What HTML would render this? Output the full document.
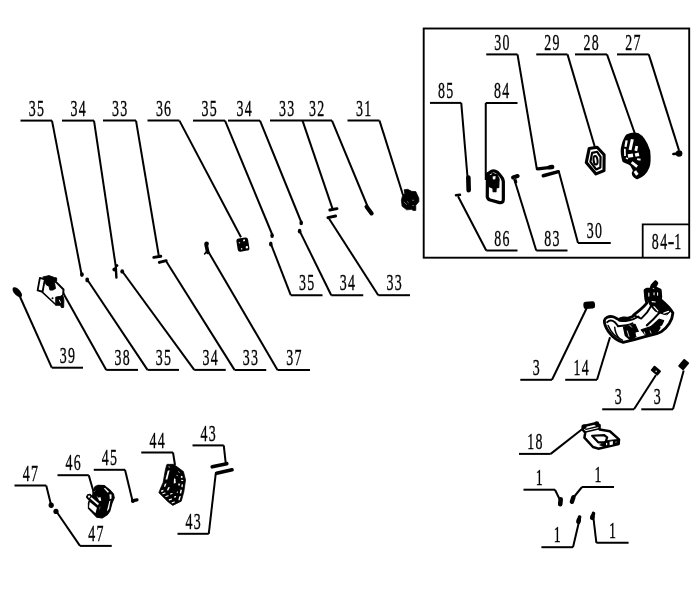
<!DOCTYPE html>
<html><head><meta charset="utf-8"><title>Parts diagram</title>
<style>
html,body{margin:0;padding:0;background:#fff;}
body{width:700px;height:591px;overflow:hidden;font-family:"Liberation Serif",serif;}
svg{display:block;}
text{font-family:"Liberation Serif",serif;font-size:23.2px;fill:#000;stroke:#000;stroke-width:0.35px;letter-spacing:2.0px;}
</style></head><body>
<svg width="700" height="591" viewBox="0 0 700 591">
<rect width="700" height="591" fill="#fff"/>
<g id="lines" stroke="#000" stroke-width="2.0" fill="none" stroke-linecap="butt">
<line x1="20.5" y1="120.6" x2="52" y2="120.6"/>
<line x1="62" y1="120.6" x2="94" y2="120.6"/>
<line x1="103" y1="120.6" x2="136" y2="120.6"/>
<line x1="147.5" y1="120.6" x2="179.4" y2="120.6"/>
<line x1="193" y1="120.6" x2="225" y2="120.6"/>
<line x1="228" y1="120.6" x2="260" y2="120.6"/>
<line x1="347.5" y1="120.6" x2="379.5" y2="120.6"/>
<line x1="486.25" y1="54.4" x2="517.5" y2="54.4"/>
<line x1="536.25" y1="54.4" x2="567.5" y2="54.4"/>
<line x1="575" y1="54.4" x2="607" y2="54.4"/>
<line x1="617" y1="54.4" x2="648.75" y2="54.4"/>
<line x1="430" y1="102.9" x2="461.25" y2="102.9"/>
<line x1="485.75" y1="102.9" x2="517.5" y2="102.9"/>
<line x1="486.25" y1="250.5" x2="517.5" y2="250.5"/>
<line x1="536.25" y1="250.5" x2="567.5" y2="250.5"/>
<line x1="578" y1="243.1" x2="610.75" y2="243.1"/>
<line x1="290.75" y1="295.2" x2="322.5" y2="295.2"/>
<line x1="331.25" y1="295.2" x2="363.25" y2="295.2"/>
<line x1="378.25" y1="295.2" x2="410" y2="295.2"/>
<line x1="51.75" y1="367.7" x2="83" y2="367.7"/>
<line x1="106.25" y1="369.9" x2="138" y2="369.9"/>
<line x1="147.5" y1="369.9" x2="179" y2="369.9"/>
<line x1="194.25" y1="369.9" x2="225.75" y2="369.9"/>
<line x1="234.5" y1="369.9" x2="266.25" y2="369.9"/>
<line x1="277.5" y1="369.9" x2="310" y2="369.9"/>
<line x1="520.3" y1="379.8" x2="552" y2="379.8"/>
<line x1="565.2" y1="379.8" x2="597" y2="379.8"/>
<line x1="602.2" y1="409.3" x2="634" y2="409.3"/>
<line x1="641.3" y1="409.3" x2="673" y2="409.3"/>
<line x1="519" y1="453.9" x2="550.7" y2="453.9"/>
<line x1="523.5" y1="489.7" x2="555" y2="489.7"/>
<line x1="582" y1="487.0" x2="614" y2="487.0"/>
<line x1="541.4" y1="547.2" x2="573" y2="547.2"/>
<line x1="596.4" y1="542.8" x2="628.6" y2="542.8"/>
<line x1="14.5" y1="485.4" x2="46.25" y2="485.4"/>
<line x1="57.5" y1="475.2" x2="88.75" y2="475.2"/>
<line x1="93.75" y1="469.8" x2="125" y2="469.8"/>
<line x1="141.25" y1="452.5" x2="173" y2="452.5"/>
<line x1="192.5" y1="445.4" x2="223.75" y2="445.4"/>
<line x1="177.5" y1="533.8" x2="208.75" y2="533.8"/>
<line x1="80" y1="545.9" x2="111.75" y2="545.9"/>
<line x1="270" y1="120.6" x2="332" y2="120.6"/>
<line x1="52" y1="120.6" x2="81.5" y2="274"/>
<line x1="87" y1="279.25" x2="147.5" y2="369.9"/>
<line x1="94" y1="120.6" x2="115.7" y2="266"/>
<line x1="122" y1="271" x2="194.25" y2="369.9"/>
<line x1="136" y1="120.6" x2="158.75" y2="255.5"/>
<line x1="166.5" y1="261.7" x2="234.5" y2="369.9"/>
<line x1="179.4" y1="120.6" x2="241" y2="237.3"/>
<line x1="225" y1="120.6" x2="272" y2="234"/>
<line x1="270.8" y1="243.6" x2="290.75" y2="295.2"/>
<line x1="260" y1="120.6" x2="301" y2="221.5"/>
<line x1="299.6" y1="230.9" x2="331.25" y2="295.2"/>
<line x1="302.5" y1="120.6" x2="332.4" y2="208.4"/>
<line x1="328" y1="217" x2="378.25" y2="295.2"/>
<line x1="332" y1="120.6" x2="367.5" y2="206.25"/>
<line x1="379.5" y1="120.6" x2="403" y2="195"/>
<line x1="208.5" y1="252" x2="277.5" y2="369.9"/>
<line x1="62.5" y1="291.75" x2="106.25" y2="369.9"/>
<line x1="20" y1="296.75" x2="51.75" y2="367.7"/>
<line x1="517.5" y1="54.4" x2="537" y2="170"/>
<line x1="567.5" y1="54.4" x2="595" y2="147.5"/>
<line x1="607" y1="54.4" x2="635" y2="134"/>
<line x1="648.75" y1="54.4" x2="679.1" y2="150.6"/>
<line x1="461.25" y1="102.9" x2="467.5" y2="177"/>
<line x1="485.75" y1="102.9" x2="485.75" y2="180"/>
<line x1="458" y1="196.25" x2="486.25" y2="250.5"/>
<line x1="514.5" y1="180" x2="536.25" y2="250.5"/>
<line x1="558.75" y1="171.25" x2="578" y2="243.1"/>
<line x1="552" y1="379.8" x2="586.5" y2="308.5"/>
<line x1="597" y1="379.8" x2="610" y2="337.2"/>
<line x1="634" y1="409.3" x2="656" y2="375"/>
<line x1="673" y1="409.3" x2="683.7" y2="370.6"/>
<line x1="550.7" y1="453.9" x2="583" y2="428.5"/>
<line x1="555" y1="489.7" x2="560" y2="500"/>
<line x1="582" y1="487.0" x2="573.5" y2="497.5"/>
<line x1="573" y1="547.2" x2="579.4" y2="520"/>
<line x1="596.4" y1="542.8" x2="593.2" y2="516"/>
<line x1="46.25" y1="485.4" x2="50.75" y2="503.75"/>
<line x1="56.25" y1="511.25" x2="80" y2="545.9"/>
<line x1="88.75" y1="475.2" x2="93.75" y2="492.5"/>
<line x1="125" y1="469.8" x2="132.3" y2="500"/>
<line x1="173" y1="452.5" x2="175" y2="465"/>
<line x1="223.75" y1="445.4" x2="225.7" y2="462.8"/>
<line x1="215.75" y1="473.5" x2="208.75" y2="533.8"/>
<rect x="423.7" y="28.5" width="265.5" height="229.2" stroke-width="1.9"/>
<path d="M642.7 257.7V224.4H689.2" stroke-width="1.8"/>
</g>
<g id="dots" fill="#000">
<ellipse cx="81.9" cy="274.6" rx="1.9" ry="2.4"/>
<ellipse cx="87.2" cy="280" rx="1.9" ry="2.4"/>
<ellipse cx="122.2" cy="271.4" rx="1.9" ry="2.2"/>
<ellipse cx="272.1" cy="235.6" rx="1.8" ry="2.5"/>
<ellipse cx="270.8" cy="243.9" rx="1.8" ry="2.5"/>
<ellipse cx="301.2" cy="222.9" rx="1.8" ry="2.4"/>
<ellipse cx="299.6" cy="231.2" rx="1.8" ry="2.4"/>
<ellipse cx="51.2" cy="505.3" rx="2.6" ry="2.7"/>
<ellipse cx="56" cy="511.4" rx="2.6" ry="2.6"/>
</g>
<g id="labels" text-anchor="middle" style="will-change:transform">
<text transform="translate(36.90 115.70) scale(0.6 1)" x="0" y="0">35</text>
<text transform="translate(78.65 115.70) scale(0.6 1)" x="0" y="0">34</text>
<text transform="translate(120.15 115.70) scale(0.6 1)" x="0" y="0">33</text>
<text transform="translate(164.10 115.70) scale(0.6 1)" x="0" y="0">36</text>
<text transform="translate(209.65 115.70) scale(0.6 1)" x="0" y="0">35</text>
<text transform="translate(244.65 115.70) scale(0.6 1)" x="0" y="0">34</text>
<text transform="translate(364.15 115.70) scale(0.6 1)" x="0" y="0">31</text>
<text transform="translate(502.52 49.50) scale(0.6 1)" x="0" y="0">30</text>
<text transform="translate(552.52 49.50) scale(0.6 1)" x="0" y="0">29</text>
<text transform="translate(591.65 49.50) scale(0.6 1)" x="0" y="0">28</text>
<text transform="translate(633.52 49.50) scale(0.6 1)" x="0" y="0">27</text>
<text transform="translate(446.27 98.00) scale(0.6 1)" x="0" y="0">85</text>
<text transform="translate(502.27 98.00) scale(0.6 1)" x="0" y="0">84</text>
<text transform="translate(502.52 245.60) scale(0.6 1)" x="0" y="0">86</text>
<text transform="translate(552.52 245.60) scale(0.6 1)" x="0" y="0">83</text>
<text transform="translate(595.02 238.20) scale(0.6 1)" x="0" y="0">30</text>
<text transform="translate(307.27 290.30) scale(0.6 1)" x="0" y="0">35</text>
<text transform="translate(347.90 290.30) scale(0.6 1)" x="0" y="0">34</text>
<text transform="translate(394.77 290.30) scale(0.6 1)" x="0" y="0">33</text>
<text transform="translate(68.03 362.80) scale(0.6 1)" x="0" y="0">39</text>
<text transform="translate(122.78 365.00) scale(0.6 1)" x="0" y="0">38</text>
<text transform="translate(163.90 365.00) scale(0.6 1)" x="0" y="0">35</text>
<text transform="translate(210.65 365.00) scale(0.6 1)" x="0" y="0">34</text>
<text transform="translate(251.03 365.00) scale(0.6 1)" x="0" y="0">33</text>
<text transform="translate(294.40 365.00) scale(0.6 1)" x="0" y="0">37</text>
<text transform="translate(536.80 374.90) scale(0.6 1)" x="0" y="0">3</text>
<text transform="translate(581.75 374.90) scale(0.6 1)" x="0" y="0">14</text>
<text transform="translate(618.75 404.40) scale(0.6 1)" x="0" y="0">3</text>
<text transform="translate(657.80 404.40) scale(0.6 1)" x="0" y="0">3</text>
<text transform="translate(535.50 449.00) scale(0.6 1)" x="0" y="0">18</text>
<text transform="translate(539.90 484.80) scale(0.6 1)" x="0" y="0">1</text>
<text transform="translate(598.65 482.10) scale(0.6 1)" x="0" y="0">1</text>
<text transform="translate(557.85 542.30) scale(0.6 1)" x="0" y="0">1</text>
<text transform="translate(613.15 537.90) scale(0.6 1)" x="0" y="0">1</text>
<text transform="translate(31.02 480.50) scale(0.6 1)" x="0" y="0">47</text>
<text transform="translate(73.78 470.30) scale(0.6 1)" x="0" y="0">46</text>
<text transform="translate(110.03 464.90) scale(0.6 1)" x="0" y="0">45</text>
<text transform="translate(157.78 447.60) scale(0.6 1)" x="0" y="0">44</text>
<text transform="translate(208.78 440.50) scale(0.6 1)" x="0" y="0">43</text>
<text transform="translate(193.78 528.90) scale(0.6 1)" x="0" y="0">43</text>
<text transform="translate(96.53 541.00) scale(0.6 1)" x="0" y="0">47</text>
<text transform="translate(287.25 115.70) scale(0.6 1)" x="0" y="0">33</text>
<text transform="translate(317.25 115.70) scale(0.6 1)" x="0" y="0">32</text>
<text transform="translate(655.75 249.40) scale(0.6 1)" x="0" y="0">8</text>
<text transform="translate(664.25 249.40) scale(0.6 1)" x="0" y="0">4</text>
<text transform="translate(672.00 249.40) scale(0.85 1)" x="0" y="0">-</text>
<text transform="translate(678.25 249.40) scale(0.6 1)" x="0" y="0">1</text>
</g>
<!--PARTS-->
<!-- part 14 : drawn in 8.4375x zoom coords, origin (600,275) -->
<g transform="translate(600 275) scale(0.11852)" stroke="#000" stroke-linejoin="round" stroke-linecap="round" fill="none">
<path d="M37 385C40 362 75 345 105 352C130 357 145 372 160 376C175 362 215 358 235 366L275 350L290 332C330 302 370 267 395 237L386 200L380 130L395 120L430 117L440 87L468 57L480 69L462 105L508 127L513 185L508 206C550 241 598 291 615 320C612 380 568 443 518 478C480 503 400 513 350 528C300 543 240 558 195 568C150 558 102 518 72 478C47 440 35 410 37 385Z" fill="#fff" stroke-width="24"/>
<path d="M440 100L470 62" stroke-width="30"/>
<path d="M380 120L510 125L515 200L385 200Z" fill="#000" stroke-width="10"/>
<path d="M412 152V178M456 150V166M486 150V170" stroke="#fff" stroke-width="9"/>
<path d="M400 205L510 205L600 300L560 338L500 318L468 304L422 252Z" fill="#000" stroke-width="10"/>
<path d="M440 224L466 228M456 266L488 303M538 322L578 307" stroke="#fff" stroke-width="10"/>
<path d="M60 398C80 380 105 382 125 398L150 428" stroke-width="16"/>
<path d="M68 425C88 475 135 528 190 550" stroke-width="12"/>
<path d="M124 440C127 480 142 515 167 540" stroke-width="12"/>
<path d="M150 432C200 428 240 424 275 408" stroke-width="16"/>
<path d="M160 384C215 400 285 376 325 350" stroke-width="16"/>
<path d="M283 338L348 368C385 335 415 295 435 255" stroke-width="16"/>
<path d="M395 425C430 395 470 355 500 320" stroke-width="18"/>
<path d="M198 440L295 416L332 495L260 550L213 510Z" fill="#000" stroke-width="10"/>
<path d="M300 486L336 476L341 508L305 518Z" fill="#fff" stroke="none"/>
<path d="M348 462L470 423L507 445L478 492L385 508Z" fill="#000" stroke-width="10"/>
<path d="M425 440L500 373L537 385L520 422L470 452Z" fill="#000" stroke-width="10"/>
<path d="M374 480L380 498M424 472L430 490" stroke="#fff" stroke-width="7"/>
<path d="M524 352L562 338" stroke="#fff" stroke-width="8"/>
<path d="M168 374C195 358 225 358 252 374L215 392Z" fill="#000" stroke-width="10"/>
<path d="M250 422L266 440M230 472L244 518" stroke="#fff" stroke-width="7"/>
</g>
<!-- parts 29, 28 : 8.75x zoom coords, origin (580,128) -->
<g transform="translate(580 128) scale(0.114286)" stroke="#000" stroke-linejoin="round" stroke-linecap="round" fill="none">
<path d="M80 180L150 168L211 234L210 373L140 402L55 302Z" fill="#fff" stroke-width="27"/>
<path d="M106 218L150 208L180 252L178 346L142 363L91 296Z" stroke-width="19"/>
<ellipse cx="136" cy="282" rx="17" ry="38" stroke-width="18" transform="rotate(-8 136 282)"/>
<path d="M410 65C440 50 480 45 505 52C540 70 580 120 605 200C612 260 608 320 598 345C580 390 545 425 500 440C480 430 462 410 462 395L472 370C460 345 450 325 440 318C420 305 395 298 380 290C368 250 362 210 366 180C375 130 395 85 410 65Z" fill="#000" stroke-width="18"/>
<g stroke="#fff" stroke-linecap="butt">
<path d="M408 108L398 165" stroke-width="20"/><path d="M392 182L394 245" stroke-width="15"/>
<path d="M458 98L438 192" stroke-width="26"/><path d="M497 158L488 200" stroke-width="24"/>
<path d="M420 245L464 238" stroke-width="30"/><path d="M482 238L516 230" stroke-width="30"/>
<path d="M452 300L500 338" stroke-width="24"/><path d="M480 378L502 410" stroke-width="26"/>
<path d="M500 272L530 278" stroke-width="16"/><path d="M402 262L420 270" stroke-width="14"/>
</g>
</g>
<!-- parts 84, 83 : 11.82x zoom coords, origin (475,162) -->
<g transform="translate(475 162) scale(0.0846)" stroke="#000" stroke-linejoin="round" stroke-linecap="round" fill="none">
<path d="M147 140L145 410Q150 440 180 450L290 480Q335 485 335 440L335 230Q330 190 300 160L265 122Q230 98 195 110Q175 125 147 140Z" fill="#fff" stroke-width="38"/>
<path d="M160 150L200 130L260 150L285 200L280 300L250 305L248 350L215 350L212 310L165 290Z" fill="#000" stroke-width="14"/>
<path d="M208 172L244 166L240 204L212 208Z" fill="#fff" stroke="none"/>
<path d="M180 150L196 142" stroke="#fff" stroke-width="10"/>
<path d="M450 182L504 166" stroke-width="48"/>
<path d="M470 200L482 236" stroke-width="36"/>
<path d="M470 196L478 204" stroke="#777" stroke-width="10"/>
</g>
<!-- parts 85,86,30 : 5.8333x zoom coords, origin (450,160) -->
<g transform="translate(450 160) scale(0.171429)" stroke="#000" stroke-linejoin="round" stroke-linecap="round" fill="none">
<path d="M107 102L109 176" stroke-width="27"/>
<path d="M35 206L58 203" stroke-width="15"/>
<path d="M512 52L575 44" stroke-width="19"/>
<path d="M580 43L596 41" stroke-width="26"/>
<path d="M544 92L632 68" stroke-width="20"/>
</g>
<!-- part 27 -->
<g stroke="#000" stroke-linecap="round" fill="none">
<circle cx="679.1" cy="153.5" r="3.3" fill="#000" stroke="none"/>
<path d="M673.4 154L677 153.6" stroke-width="2.6"/>
</g>
<!-- part 38 : 13.13x zoom coords, origin (30,268) -->
<g transform="translate(30 268) scale(0.07614)" stroke="#000" stroke-linejoin="round" stroke-linecap="round" fill="none">
<path d="M130 130L250 100L350 130L440 280L440 520L340 485L100 295Z" fill="#fff" stroke="none"/>
<path d="M130 130L195 150L165 312L100 295Z" fill="#fff" stroke-width="24"/>
<path d="M172 117L250 100L320 125L350 130L350 170L322 195L335 270L300 290L262 290L250 240L212 220L192 160Z" fill="#000" stroke-width="12"/>
<path d="M340 182L440 282L436 345" stroke-width="26"/>
<path d="M165 320L340 482" stroke-width="20"/>
<path d="M342 382L400 372L430 352L445 420L442 518L412 520L400 490L342 490Z" fill="#000" stroke-width="12"/>
<path d="M386 422L400 452" stroke="#fff" stroke-width="12"/>
<circle cx="296" cy="396" r="13" fill="#000" stroke="none"/>
</g>
<!-- part 39 -->
<ellipse cx="17.3" cy="292.2" rx="6.2" ry="3.1" transform="rotate(48 17.3 292.2)" fill="#000"/>
<!-- small parts: 34 bracket, 33 dashes, 37, 36, 32, 31 -->
<g stroke="#000" stroke-linecap="round" stroke-linejoin="round" fill="none">
<circle cx="116.8" cy="265.5" r="1.6" fill="#000" stroke="none"/>
<circle cx="114.5" cy="269.5" r="2.1" fill="#000" stroke="none"/>
<path d="M115.8 267L116.4 277.6" stroke-width="2.4"/>
<path d="M153.8 257.4L160.8 256.3" stroke-width="2.9"/>
<path d="M159.3 262.4L166.2 260.7" stroke-width="2.9"/>
<path d="M329.8 210L337 208.6" stroke-width="2.9"/>
<path d="M327.9 217.7L335.6 216" stroke-width="2.9"/>
<circle cx="206.6" cy="243.7" r="2.3" fill="#000" stroke="none"/>
<path d="M206.2 245L207.8 252.4" stroke-width="3.6"/>
<path d="M204.6 254L206.6 251.6" stroke-width="1.6"/>
<path d="M366.6 206.8L371.6 213.4" stroke-width="4.2"/>
</g>
<g transform="rotate(-9 242.9 244.6)">
<rect x="237" y="238" width="11.8" height="13.2" rx="2.6" fill="#000"/>
<circle cx="244.7" cy="240.6" r="1" fill="#fff"/><circle cx="246.4" cy="247.8" r="1.2" fill="#fff"/>
<circle cx="241" cy="248.6" r="0.8" fill="#ccc"/><circle cx="239.8" cy="242.2" r="0.8" fill="#bbb"/>
</g>
<!-- part 31 : 19.7x zoom coords origin (395,185) -->
<g transform="translate(395 185) scale(0.05076)">
<path d="M180 92L250 85L330 125L410 130L470 260L470 330L410 400L410 500L350 500L330 480L230 490L140 420L125 300L150 200L192 172Z" fill="#000" stroke="#000" stroke-width="14" stroke-linejoin="round"/>
<path d="M180 340L230 385M240 325L265 350M345 300L370 302M350 405L368 408" stroke="#bbb" stroke-width="12" stroke-linecap="round"/>
</g>
<!-- part 46 : 13.13x zoom coords, origin (80,478) -->
<g transform="translate(80 478) scale(0.07614)" stroke-linejoin="round" stroke-linecap="round">
<path d="M200 110L240 95L320 100L390 155L440 210L450 260L420 330L390 440L360 480L290 525L220 515L110 400L110 330L122 290L100 272L85 248L100 220L130 213L165 245L172 170Z" fill="#000" stroke="#000" stroke-width="14"/>
<path d="M312 136L330 130L380 180L366 194Z" fill="#fff"/>
<path d="M387 212L414 216L414 268L392 280Z" fill="#fff"/>
<path d="M386 302L400 296L382 400L360 438L356 420Z" fill="#fff"/>
<path d="M128 314L222 390L204 462L118 384Z" fill="#fff"/>
<path d="M134 270L150 252L248 336L236 358Z" fill="#fff"/>
<circle cx="120" cy="245" r="15" fill="#fff"/>
<path d="M216 232L244 260L268 250L280 298L252 300L238 270Z" fill="#fff"/>
<path d="M186 180L196 170" stroke="#ccc" stroke-width="8" fill="none"/>
<path d="M258 408L262 380" stroke="#999" stroke-width="8" fill="none"/>
</g>
<!-- part 44 : 11.82x zoom coords, origin (150,458) -->
<g transform="translate(150 458) scale(0.0846)" stroke-linejoin="round" stroke-linecap="round">
<path d="M205 75L280 75L395 160L420 260L400 400L370 510L270 560L215 520L105 410L120 370L155 290L180 150L195 90Z" fill="#000" stroke="#000" stroke-width="9"/>
<g fill="#fff">
<path d="M210 150L232 145L205 255L183 255Z"/>
<path d="M285 235L300 250L305 295L280 300Z"/>
<path d="M175 305L195 300L180 340L165 340Z"/>
<path d="M215 345L235 345L215 385L200 380Z"/>
<path d="M130 385L160 375L155 395L130 400Z"/>
<path d="M290 450L310 450L300 470L285 468Z"/>
<path d="M345 455L365 450L350 500L335 498Z"/>
<path d="M360 375L378 375L368 420L352 418Z"/>
<path d="M375 310L390 312L385 345L370 342Z"/>
<path d="M335 300L355 305L350 325L335 325Z"/>
<path d="M365 210L385 215L383 235L365 232Z"/>
<path d="M320 395L330 395L325 415L315 415Z"/>
</g>
<g stroke="#fff" stroke-width="13" fill="none">
<path d="M152 422L178 414"/><path d="M188 455L214 446"/><path d="M228 495L254 486"/><path d="M262 530L288 520"/>
<path d="M372 263L388 266"/><path d="M242 426L262 420"/>
</g>
<g stroke="#bbb" stroke-width="10" fill="none"><path d="M316 206L328 210"/><path d="M336 162L348 170"/><path d="M225 100L228 112"/></g>
</g>
<!-- 43 dashes, 45 bolt -->
<g stroke="#000" stroke-linecap="round" fill="none">
<path d="M212.2 466.8L226.8 463.7" stroke-width="3.6"/>
<path d="M216.6 473.3L232 469.8" stroke-width="3.6"/>
<path d="M133 500.6L137 499.9" stroke-width="3.2"/>
<circle cx="132.9" cy="500.9" r="2" fill="#000" stroke="none"/>
</g>
<!-- parts "1" (x4) -->
<g stroke="#000" stroke-linecap="round" fill="none">
<path d="M560.7 499.4L560.2 504.3" stroke-width="4.6"/>
<path d="M573.4 497.2L571.9 501.8" stroke-width="4.4"/>
<path d="M579.6 517L579.2 518.5" stroke-width="3.6"/><path d="M578.8 520L578.4 521.8" stroke-width="4.6"/>
<path d="M593.5 513.4L593.2 514.6" stroke-width="3.6"/><path d="M592.6 516.4L592.2 517.8" stroke-width="4.6"/>
</g>
<!-- parts "3" (x3) -->
<rect x="583.4" y="301.4" width="11.6" height="7.3" rx="2.4" fill="#000" transform="rotate(-4 589.2 305)"/>
<g transform="rotate(40 655.9 370.6)"><rect x="651.4" y="367.5" width="9" height="6.3" rx="1" fill="#000"/><circle cx="656.6" cy="371" r="0.8" fill="#ddd"/></g>
<rect x="678.8" y="361.1" width="9.8" height="7" rx="1" fill="#000" transform="rotate(-50 683.7 364.6)"/>
<!-- part 18 : 11.667x zoom coords, origin (570,415) -->
<g transform="translate(570 415) scale(0.085714)" stroke="#000" stroke-linejoin="round" stroke-linecap="round" fill="none">
<path d="M148 132L300 97L345 117L345 170L465 190L572 285L568 338L330 393L268 373L168 265L178 205L148 172Z" fill="#fff" stroke-width="29"/>
<path d="M258 242L400 236L434 260L414 318L332 320Z" stroke-width="26"/>
<path d="M186 168L336 132" stroke-width="17"/>
<path d="M182 198L340 160" stroke-width="17"/>
<circle cx="166" cy="136" r="29" fill="#000" stroke="none"/>
<circle cx="312" cy="102" r="29" fill="#000" stroke="none"/>
<path d="M420 300L560 285L560 335L400 370L350 350Z" fill="#000" stroke-width="10"/>
<path d="M462 312L500 303L500 345L462 352Z" fill="#fff" stroke="none"/>
<path d="M420 328L434 324L434 350L420 354Z" fill="#fff" stroke="none"/>
<path d="M528 318L545 314" stroke="#888" stroke-width="10"/>
</g>
</svg>
</body></html>
